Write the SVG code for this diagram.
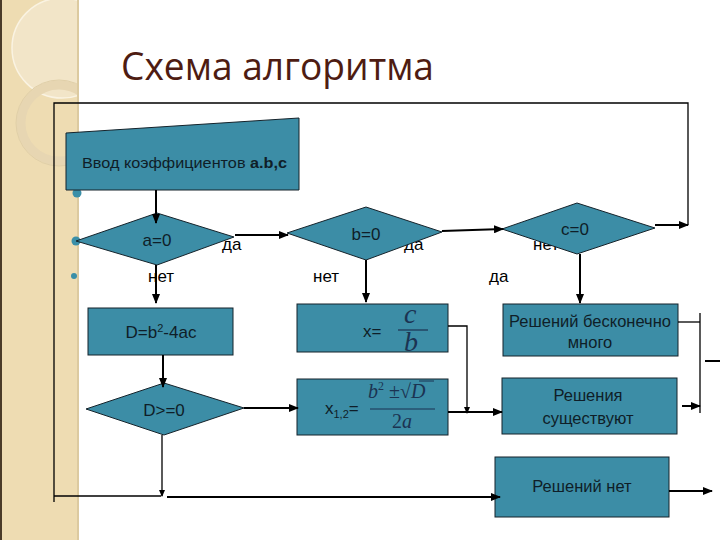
<svg xmlns="http://www.w3.org/2000/svg" width="720" height="540" viewBox="0 0 720 540">
<defs>
<marker id="ah" markerUnits="userSpaceOnUse" markerWidth="10" markerHeight="8" refX="9" refY="4" orient="auto">
<path d="M0,0 L10,4 L0,8 z" fill="#000"/>
</marker>
<marker id="ahs" markerUnits="userSpaceOnUse" markerWidth="7" markerHeight="6" refX="6" refY="3" orient="auto">
<path d="M0,0 L7,3 L0,6 z" fill="#000"/>
</marker>
<clipPath id="sc"><rect x="0" y="0" width="79" height="540"/></clipPath>
<style>
.node{fill:#3C8DA6;stroke:#15232b;stroke-width:1}
.t{font-family:"Liberation Sans",Arial,sans-serif;fill:#0f1e28}
.lbl{font-family:"Liberation Sans",Arial,sans-serif;font-size:17px;fill:#000}
.m{font-family:"Liberation Serif","Times New Roman",serif;font-style:italic;fill:#1b3352}
.c{fill:none;stroke:#000;stroke-width:2}
.f{fill:none;stroke:#000;stroke-width:1.3}
</style>
</defs>
<rect width="720" height="540" fill="#fff"/>
<!-- left decorative strip -->
<g id="strip" clip-path="url(#sc)">
<rect x="0" y="0" width="79" height="540" fill="#EEDCB2"/>
<circle cx="62" cy="48" r="50" fill="#F2E5C8" stroke="#FAF3E2" stroke-width="1.5"/>
<circle cx="59" cy="123" r="38" fill="none" stroke="#E7D6B2" stroke-width="9"/>
<circle cx="59" cy="123" r="43" fill="none" stroke="#e0cfa8" stroke-width="1"/>
<rect x="0" y="0" width="2" height="540" fill="#4a3b28"/>
<rect x="77" y="0" width="2" height="540" fill="#dccaa0"/>
</g>
<text x="121" y="80" font-family="'Open Sans','Liberation Sans',sans-serif" font-size="38" fill="#4e1c12" textLength="313" lengthAdjust="spacingAndGlyphs">Схема алгоритма</text>
<!-- bullets -->
<g id="bullets" fill="#3a8fa8">
<circle cx="77" cy="193" r="4.5"/>
<circle cx="76" cy="241" r="4.5"/>
<circle cx="74" cy="276" r="3"/>
</g>
<!-- branch labels -->
<g id="labels" class="lbl">
<text x="222" y="250">да</text>
<text x="148" y="282">нет</text>
<text x="404" y="250">да</text>
<text x="313" y="282">нет</text>
<text x="533" y="250">нет</text>
<text x="489" y="282">да</text>
</g>
<g id="input">
<polygon class="node" points="66,133 299,118 299,190 66,190"/>
<text class="t" x="82" y="168" font-size="14" textLength="205" lengthAdjust="spacingAndGlyphs">Ввод коэффициентов <tspan font-weight="bold">a.b,c</tspan></text>
</g>
<g id="a0">
<polygon class="node" points="76,241 157,213 234,237 157,265"/>
<text class="t" x="157" y="246" font-size="17" text-anchor="middle">a=0</text>
</g>
<g id="b0">
<polygon class="node" points="287,233 366,207 442,232 366,260"/>
<text class="t" x="366" y="240" font-size="17" text-anchor="middle">b=0</text>
</g>
<g id="c0">
<polygon class="node" points="502,229 577,203 655,228 577,254"/>
<text class="t" x="575" y="235" font-size="17" text-anchor="middle">c=0</text>
</g>
<g id="disc">
<rect class="node" x="88" y="308" width="145" height="47"/>
<text class="t" x="161" y="338" font-size="17" text-anchor="middle">D=b<tspan dy="-6" font-size="11">2</tspan><tspan dy="6">-4ac</tspan></text>
</g>
<g id="dge0">
<polygon class="node" points="86,409 164,383 244,408 164,435"/>
<text class="t" x="164" y="416" font-size="17" text-anchor="middle">D&gt;=0</text>
</g>
<g id="xcb">
<rect class="node" x="297" y="304" width="151" height="48"/>
<text class="t" x="363" y="337" font-size="17">x=</text>
<text class="m" x="404" y="323" font-size="28">c</text>
<line x1="398" y1="330" x2="428" y2="330" stroke="#1b3352" stroke-width="1.2"/>
<text class="m" x="404" y="351" font-size="28">b</text>
</g>
<g id="x12">
<rect class="node" x="297" y="379" width="151" height="56"/>
<text class="t" x="325" y="414" font-size="17">x<tspan dy="4" font-size="11">1,2</tspan><tspan dy="-4">=</tspan></text>
<text class="m" x="368" y="398" font-size="20">b<tspan dy="-8" font-size="12" font-style="normal">2</tspan><tspan dy="8" font-style="normal"> ±√</tspan>D</text>
<line x1="419" y1="381" x2="434" y2="381" stroke="#1b3352" stroke-width="1"/>
<line x1="370" y1="409" x2="435" y2="409" stroke="#1b3352" stroke-width="1.2"/>
<text class="m" x="402" y="428" font-size="20" text-anchor="middle"><tspan font-style="normal">2</tspan>a</text>
</g>
<g id="inf">
<rect class="node" x="503" y="304" width="175" height="52"/>
<text class="t" x="590" y="327" font-size="16.5" text-anchor="middle">Решений бесконечно</text>
<text class="t" x="590" y="348" font-size="16.5" text-anchor="middle">много</text>
</g>
<g id="exist">
<rect class="node" x="502" y="378" width="175" height="56"/>
<text class="t" x="588" y="401" font-size="16.5" text-anchor="middle">Решения</text>
<text class="t" x="588" y="424" font-size="16.5" text-anchor="middle">существуют</text>
</g>
<g id="none">
<rect class="node" x="495" y="457" width="174" height="60"/>
<text class="t" x="582" y="492" font-size="16.5" text-anchor="middle">Решений нет</text>
</g>
<g id="connectors">
<polyline class="f" points="688,225 688,103 54,103 54,502"/>
<line class="f" x1="54" y1="496" x2="161" y2="496"/>
<line class="c" x1="655" y1="225" x2="688" y2="225" marker-end="url(#ah)"/>
<line class="c" x1="156" y1="190" x2="156" y2="223" marker-end="url(#ah)"/>
<line class="c" x1="235" y1="235" x2="288" y2="235" marker-end="url(#ah)"/>
<line class="c" x1="156" y1="265" x2="156" y2="303" marker-end="url(#ah)"/>
<line class="c" x1="442" y1="231" x2="503" y2="229" marker-end="url(#ah)"/>
<line class="c" x1="366" y1="260" x2="366" y2="302" marker-end="url(#ah)"/>
<line class="c" x1="580" y1="254" x2="580" y2="303" marker-end="url(#ah)"/>
<line class="c" x1="163" y1="355" x2="163" y2="387" marker-end="url(#ah)"/>
<line class="c" x1="244" y1="408" x2="298" y2="408" marker-end="url(#ah)"/>
<line class="f" x1="162" y1="435" x2="162" y2="496" marker-end="url(#ahs)"/>
<line class="c" x1="167" y1="497" x2="500" y2="497" marker-end="url(#ah)"/>
<polyline class="f" points="448,326 467,326 467,413" marker-end="url(#ahs)"/>
<line class="c" x1="448" y1="412" x2="502" y2="412" marker-end="url(#ah)"/>
<line class="f" x1="678" y1="322" x2="700" y2="322"/>
<line class="f" x1="700" y1="313" x2="700" y2="413"/>
<line class="c" x1="682" y1="406" x2="700" y2="406" marker-end="url(#ah)"/>
<line class="c" x1="705" y1="361" x2="720" y2="361"/>
<line class="c" x1="669" y1="491" x2="712" y2="491" marker-end="url(#ah)"/>
</g>
</svg>
